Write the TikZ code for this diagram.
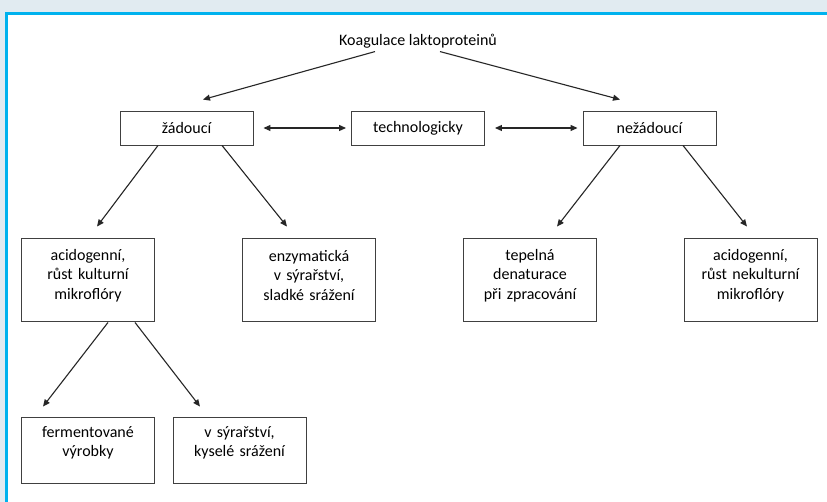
\documentclass[tikz,border=0pt]{standalone}
\usepackage{fontspec}
\setmainfont{Carlito}
\usetikzlibrary{arrows.meta}
\definecolor{ramec}{HTML}{E1EBF1}
\definecolor{linka}{HTML}{00B2EE}
\tikzset{
    krabice/.style={draw=black!75, line width=0.9pt, minimum width=133pt, text width=125pt, align=center, inner sep=4pt, font=\fontsize{16}{19.5}\selectfont},
    nahoru/.style={execute at end node={\par\vspace*{#1}}},
    sipka/.style={-{Triangle[length=7pt,width=6pt]}, line width=1.1pt, black!85},
    dvojsipka/.style={{Triangle[length=7pt,width=6pt]}-{Triangle[length=7pt,width=6pt]}, line width=1.1pt, black!85}
}
\begin{document}
\begin{tikzpicture}[x=1pt,y=-1pt]
        \useasboundingbox (0,0) rectangle (827,502);
        % Pozadi a ramecek
        \fill[ramec] (0,0) rectangle (827,502);
        \fill[linka] (5,12) rectangle (827,15);
        \fill[linka] (5,12) rectangle (8,502);
        \fill[white] (8,15) rectangle (827,502);
        
        % Nadpis
        \node[font=\fontsize{16}{19.5}\selectfont] (koag) at (418,41) {Koagulace laktoproteinů};
        
        % Prvni uroven
        \node[krabice, minimum height=34pt] (zad) at (186.5,128) {žádoucí};
        \node[krabice, minimum height=34pt] (tech) at (418,128) {technologicky};
        \node[krabice, minimum height=34pt] (nezad) at (649.5,128) {nežádoucí};
        
        % Druha uroven
        \node[krabice, nahoru=8pt, minimum height=83pt] (acid) at (88,279.5) {acidogenní,\\růst kulturní\\mikroflóry};
        \node[krabice, nahoru=8pt, minimum height=83pt] (enz) at (309,279.5) {enzymatická\\v sýrařství,\\sladké srážení};
        \node[krabice, nahoru=8pt, minimum height=83pt] (tep) at (530,279.5) {tepelná\\denaturace\\při zpracování};
        \node[krabice, nahoru=8pt, minimum height=83pt] (acidne) at (750.5,279.5) {acidogenní,\\růst nekulturní\\mikroflóry};
        
        % Treti uroven
        \node[krabice, nahoru=14pt, minimum height=66pt] (ferm) at (88,450) {fermentované\\výrobky};
        \node[krabice, nahoru=14pt, minimum height=66pt] (kys) at (239.5,450) {v sýrařství,\\kyselé srážení};
        
        % Sipky od nadpisu
        \draw[sipka] ([xshift=-43pt]koag.south) -- ([xshift=16.5pt,yshift=11pt]zad.north);
        \draw[sipka] ([xshift=22pt]koag.south) -- ([xshift=-29.5pt,yshift=11pt]nezad.north);
        
        % Obousmerne sipky
        \draw[dvojsipka, shorten <=10pt, shorten >=5pt] (zad) -- (tech);
        \draw[dvojsipka, shorten <=10pt, shorten >=5pt] (tech) -- (nezad);
        
        % Sipky do druhe urovne
        \draw[sipka] ([xshift=-28.5pt]zad.south) -- ([xshift=9pt,yshift=11pt]acid.north);
        \draw[sipka] ([xshift=35.5pt]zad.south) -- ([xshift=-22pt,yshift=11pt]enz.north);
        \draw[sipka] ([xshift=-29.5pt]nezad.south) -- ([xshift=27pt,yshift=11pt]tep.north);
        \draw[sipka] ([xshift=33.5pt]nezad.south) -- ([xshift=-3.5pt,yshift=11pt]acidne.north);
        
        % Sipky do treti urovne
        \draw[sipka] ([xshift=20pt,yshift=-1pt]acid.south) -- ([xshift=-45pt,yshift=10pt]ferm.north);
        \draw[sipka] ([xshift=47pt,yshift=-1pt]acid.south) -- ([xshift=-39.5pt,yshift=10pt]kys.north);
\end{tikzpicture}
\end{document}
